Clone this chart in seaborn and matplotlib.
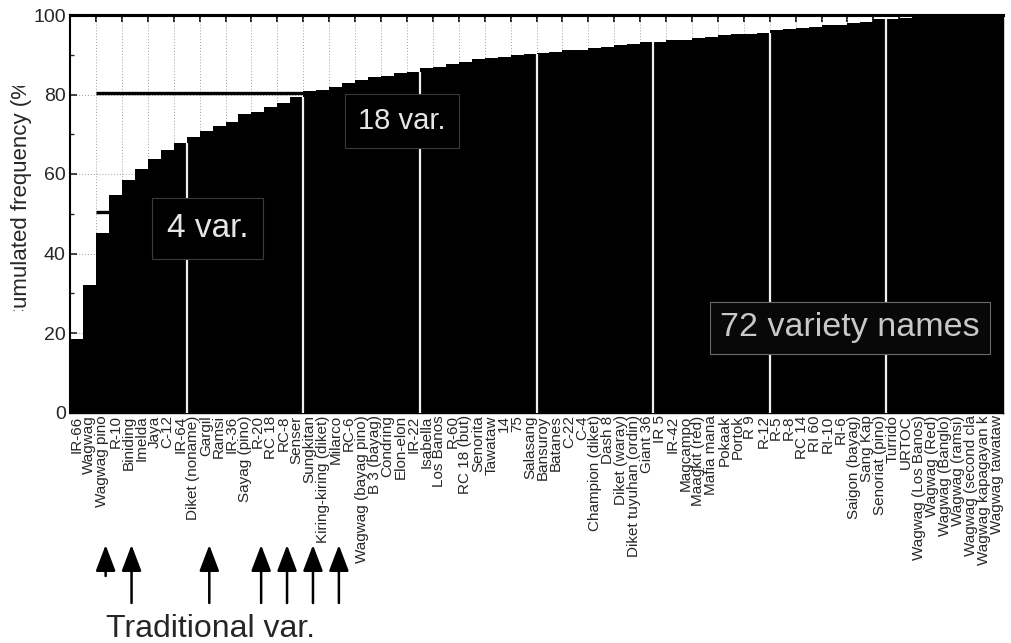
import numpy as np
import pandas as pd
import matplotlib
matplotlib.use("Agg")
import matplotlib.pyplot as plt
from matplotlib.transforms import Bbox, TransformedBbox
import seaborn as sns

# Rice variety names, ranked by frequency
varieties = [
    "IR-66", "Wagwag", "Wagwag pino", "R-10", "Biniding", "Imelda", "Jaya", "C-12",
    "IR-64", "Diket (noname)", "Gargil", "Ramsi", "IR-36", "Sayag (pino)", "R-20",
    "RC 18", "RC-8", "Senser", "Sungkitan", "Kiring-kiring (diket)", "Milarco", "RC-6",
    "Wagwag (bayag pino)", "B 3 (bayag)", "Condring", "Elon-elon", "IR-22", "Isabella",
    "Los Banos", "R-60", "RC 18 (but)", "Senorita", "Tawataw", "14", "75", "Salasang",
    "Bansuroy", "Batanes", "C-22", "C-4", "Champion (diket)", "Dash 8", "Diket (waray)",
    "Diket tuyuhan (ordin)", "Giant 36", "IR 5", "IR-42", "Magcampo", "Maagkit (red)",
    "Mafia mana", "Pokaak", "Portok", "R 9", "R-12", "R-5", "R-8", "RC 14", "RI 60",
    "RI-10", "RI-6", "Saigon (bayag)", "Sang Kap", "Senoriat (pino)", "Turrido", "URTOC",
    "Wagwag (Los Banos)", "Wagwag (Red)", "Wagwag (Banglo)", "Wagwag (ramsi)",
    "Wagwag (second cla", "Wagwag kapagayan k", "Wagwag tawataw",
]

# Cumulated frequency (%)
cum_freq = [
    18.4, 32.1, 45.2, 54.7, 58.5, 61.3, 63.7, 66.0, 67.9, 69.2,
    70.8, 72.1, 73.2, 75.0, 75.7, 76.8, 77.9, 79.3, 80.8, 81.2,
    82.0, 82.8, 83.6, 84.3, 84.7, 85.3, 85.7, 86.6, 87.0, 87.7,
    88.1, 88.9, 89.3, 89.5, 89.9, 90.1, 90.5, 90.7, 91.1, 91.3,
    91.7, 91.9, 92.4, 92.6, 93.1, 93.3, 93.7, 93.8, 94.2, 94.4,
    94.9, 95.1, 95.3, 95.5, 96.2, 96.4, 96.8, 97.0, 97.4, 97.6,
    98.1, 98.3, 98.9, 99.1, 99.3, 99.4, 99.6, 99.7, 100.0, 100.0,
    100.0, 100.0,
]

# Traditional varieties marked with arrows
traditional = ["Wagwag pino", "Biniding", "Gargil", "R-20", "RC-8", "Sungkitan", "Milarco"]

y_ticks = [0, 20, 40, 60, 80, 100]
threshold_levels = [50, 80]

df = pd.DataFrame({"variety": varieties, "cum": cum_freq})

sns.set_style("white")
plt.rcParams["font.family"] = ["Liberation Sans", "DejaVu Sans"]

W, H = 1011, 643
fig = plt.figure(figsize=(W / 100, H / 100), dpi=100)
ax = fig.add_axes([70 / W, 230.5 / H, 933 / W, 397.5 / H])

n = len(varieties)

# dotted grid in the background
ax.vlines(np.arange(1.5, n, 2), 0, 100, colors="#a0a0a0", linestyles=(0, (1, 2)),
          linewidth=0.7, zorder=0.5)
ax.hlines(y_ticks[1:-1], -0.5, n - 0.5, colors="#a0a0a0", linestyles=(0, (1, 2)),
          linewidth=0.7, zorder=0.5)

sns.barplot(data=df, x="variety", y="cum", color="black", saturation=1,
            width=1.0, linewidth=0, edgecolor="black", ax=ax, zorder=2)

# white separators every nine varieties
for k in range(9, n, 9):
    ax.vlines(k - 0.5, 0, cum_freq[k - 1], colors="#f0f0f0", linewidth=1.6, zorder=3)

# threshold marks at 50 % and 80 %
ax.hlines(threshold_levels[0] + 0.5, 1.5, 2.5, colors="black", linewidth=2.4, zorder=4)
ax.hlines(threshold_levels[1] + 0.5, 1.5, 20.0, colors="black", linewidth=2.4, zorder=4)

ax.set_xlim(-0.5, n - 0.5)
ax.set_ylim(0, 100)
ax.set_xlabel("")
ax.set_ylabel("")

ax.set_yticks(y_ticks)
ax.set_yticks(np.arange(10, 100, 20), minor=True)
ax.tick_params(axis="y", which="major", direction="in", length=5, width=1.2,
               labelsize=14, pad=3, left=True)
ax.tick_params(axis="y", which="minor", direction="in", length=3, width=1.0, left=True)

ax.set_xticks(range(n))
ax.set_xticklabels(varieties, rotation=90, fontsize=11)
ax.tick_params(axis="x", length=0, pad=2)

for side in ["left", "top", "bottom", "right"]:
    ax.spines[side].set_color("black")
ax.spines["top"].set_linewidth(2.2)
ax.spines["left"].set_linewidth(1.5)
ax.spines["bottom"].set_linewidth(1.0)
ax.spines["right"].set_linewidth(1.0)

top = ax.secondary_xaxis("top")
top.set_xticks(np.arange(1.5, n, 2))
top.set_xticklabels([])
top.tick_params(direction="in", length=5, width=1.2, color="black")
top.spines["top"].set_linewidth(2.2)

# callout boxes
box = dict(boxstyle="square,pad=0.45", facecolor="black", edgecolor="#3a3a3a", linewidth=0.8)
ax.text(10.1, 46.4, "4 var.", color="#e6e6e6", fontsize=24, ha="center", va="center",
        bbox=box, zorder=5)
ax.text(25.1, 73.3, "18 var.", color="#e6e6e6", fontsize=21, ha="center", va="center",
        bbox=box, zorder=5)
box72 = dict(boxstyle="square,pad=0.3", facecolor="#080808", edgecolor="#6a6a6a", linewidth=0.8)
ax.text(59.7, 21.3, "72 variety names", color="#c8c8c8", fontsize=24.5, ha="center",
        va="center", bbox=box72, zorder=5)

# axis title, clipped at both ends
ylab = fig.text(22 / W, 1 - 198 / H, "Cumulated frequency (%)", rotation=90,
                fontsize=16, ha="center", va="center")
clip = TransformedBbox(Bbox.from_extents(0, (H - 311) / H, 60 / W, (H - 86) / H),
                       fig.transFigure)
ylab.set_clip_box(clip)
ylab.set_clip_on(True)

# arrows under the traditional varieties
for i, name in enumerate(traditional):
    xpos = varieties.index(name) + 0.25
    tail = H - 576 if i == 0 else H - 603
    ax.annotate("", xy=(xpos, H - 545), xycoords=("data", "figure pixels"),
                xytext=(xpos, tail), textcoords=("data", "figure pixels"),
                arrowprops=dict(arrowstyle="-|>,head_length=1.0,head_width=0.38",
                                mutation_scale=16, lw=1.8, color="black",
                                shrinkA=0, shrinkB=0))

fig.text(211 / W, 6 / H, "Traditional var.", fontsize=23, ha="center", va="baseline")

fig.savefig("out.png", dpi=100, facecolor="white")
